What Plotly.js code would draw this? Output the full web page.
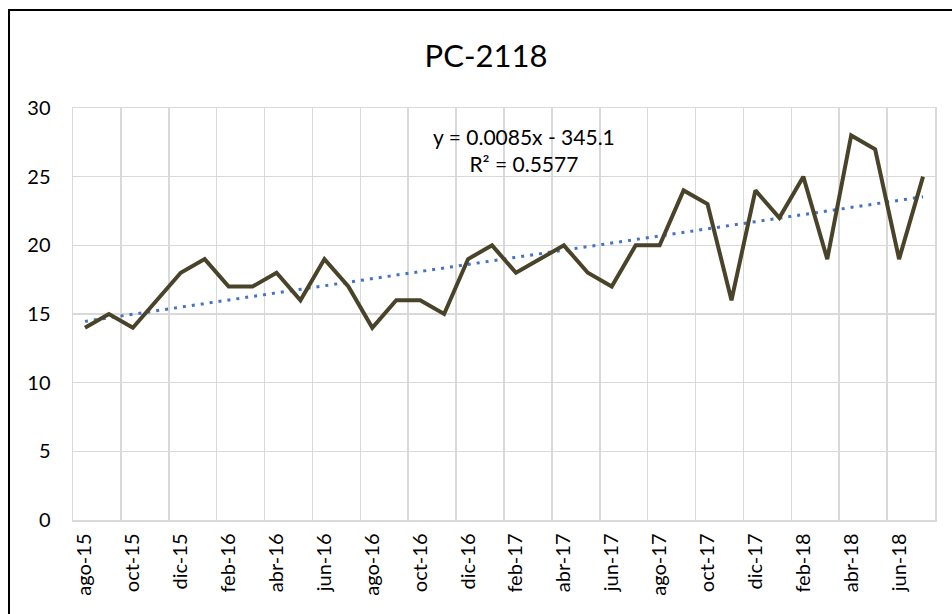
<!DOCTYPE html>
<html>
<head>
<meta charset="utf-8">
<script src="https://cdn.plot.ly/plotly-3.0.1.min.js"></script>
<style>
  html, body { margin: 0; padding: 0; width: 952px; height: 614px; overflow: hidden; background: #fff; }
  #chart { position: absolute; left: 0; top: 0; width: 952px; height: 614px; }
  #frame { position: absolute; left: 8px; top: 9px; width: 1000px; height: 700px; border: 2px solid #000; pointer-events: none; }
</style>
</head>
<body>
<div id="chart"></div>
<div id="frame"></div>
<script>
const months = ['ago-15','sep-15','oct-15','nov-15','dic-15','ene-16','feb-16','mar-16','abr-16','may-16','jun-16','jul-16',
                'ago-16','sep-16','oct-16','nov-16','dic-16','ene-17','feb-17','mar-17','abr-17','may-17','jun-17','jul-17',
                'ago-17','sep-17','oct-17','nov-17','dic-17','ene-18','feb-18','mar-18','abr-18','may-18','jun-18','jul-18'];
const values = [14,15,14,16,18,19,17,17,18,16,19,17,
                14,16,16,15,19,20,18,19,20,18,17,20,
                20,24,23,16,24,22,25,19,28,27,19,25];
const yTicks = [0,5,10,15,20,25,30];
const trendLabel = 'y = 0.0085x - 345.1<br>R² = 0.5577';
const chartTitle = 'PC-2118';

const xIdx = months.map((_, i) => i);
// least-squares trendline computed from the data
const n = values.length;
const mx = xIdx.reduce((a, b) => a + b, 0) / n;
const my = values.reduce((a, b) => a + b, 0) / n;
let sxy = 0, sxx = 0;
for (let i = 0; i < n; i++) { sxy += (xIdx[i] - mx) * (values[i] - my); sxx += (xIdx[i] - mx) ** 2; }
const slope = sxy / sxx, icpt = my - slope * mx;
const trendX = [xIdx[0], xIdx[n - 1]];
const trendY = trendX.map(x => icpt + slope * x);

const tickIdx = xIdx.filter(i => i % 2 === 0);
const tickTxt = tickIdx.map(i => months[i]);

const font = 'Lato, "Open Sans", sans-serif';

const data = [
  { x: trendX, y: trendY, type: 'scatter', mode: 'lines',
    line: { color: '#4472C4', width: 3, dash: '3px,6px' }, hoverinfo: 'skip', showlegend: false },
  { x: xIdx, y: values, type: 'scatter', mode: 'lines',
    line: { color: '#494429', width: 4 }, showlegend: false },
  { x: [xIdx[0]], y: [values[0]], xaxis: 'x2', type: 'scatter', mode: 'none', hoverinfo: 'skip', showlegend: false }
];

const layout = {
  width: 952, height: 614,
  paper_bgcolor: '#ffffff', plot_bgcolor: '#ffffff',
  margin: { l: 73, r: 17, t: 108, b: 94 },
  font: { family: font, color: '#000000', size: 20 },
  title: { text: chartTitle, font: { family: font, size: 31, color: '#000' },
           x: 0.5105, xanchor: 'center', xref: 'container', y: 0.909, yanchor: 'middle', yref: 'container' },
  xaxis: {
    range: [-0.5, n - 0.5], tickmode: 'array', tickvals: tickIdx, ticktext: tickTxt,
    tickangle: -90, showgrid: false, zeroline: false, ticks: '', ticklabelstandoff: 4,
    showline: true, mirror: true, linecolor: '#d9d9d9', linewidth: 1.5,
    tickfont: { family: font, size: 20, color: '#000' }
  },
  xaxis2: {
    overlaying: 'x', range: [-0.5, n - 0.5], tickmode: 'linear', tick0: -0.5, dtick: 2,
    showticklabels: false, showgrid: true, gridcolor: '#d9d9d9', gridwidth: 1.5, zeroline: false, ticks: ''
  },
  yaxis: {
    range: [0, 30], tickmode: 'array', tickvals: yTicks, ticktext: yTicks.map(String),
    showgrid: true, gridcolor: '#d9d9d9', gridwidth: 1.5, zeroline: false, ticks: '',
    ticklabelstandoff: 17, showline: true, mirror: true, linecolor: '#d9d9d9', linewidth: 1.5,
    tickfont: { family: font, size: 20, color: '#000' }
  },
  annotations: [{
    text: trendLabel, xref: 'paper', yref: 'paper', x: 0.523, y: 0.898,
    xanchor: 'center', yanchor: 'middle', showarrow: false, align: 'center',
    font: { family: font, size: 21, color: '#000' }
  }]
};

Plotly.newPlot('chart', data, layout, { displayModeBar: false, staticPlot: true });
</script>
</body>
</html>
